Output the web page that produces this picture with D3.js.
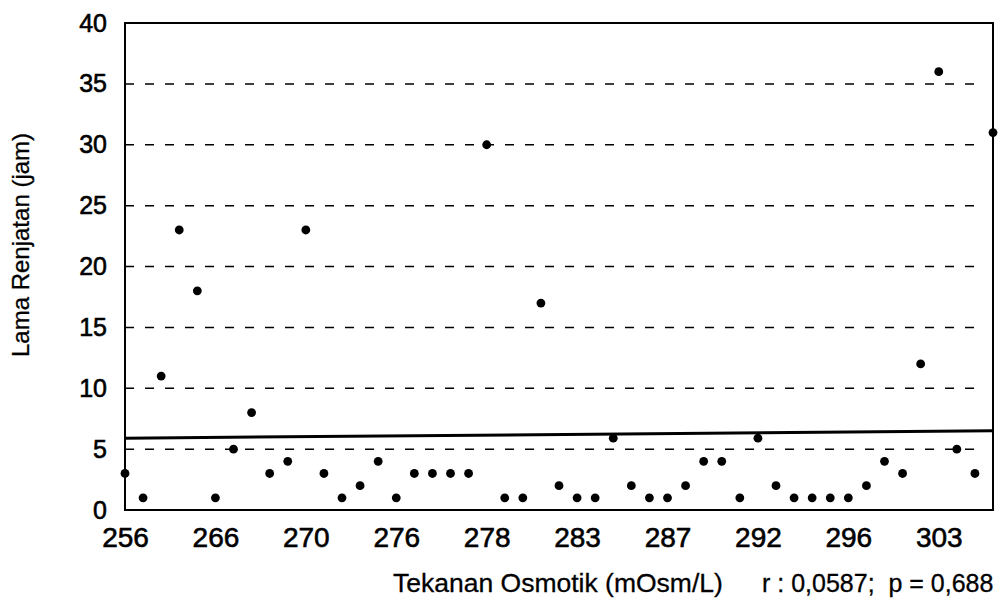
<!DOCTYPE html>
<html>
<head>
<meta charset="utf-8">
<script src="https://cdn.jsdelivr.net/npm/d3@7"></script>
<style>
  body { margin: 0; background: #fff; }
  text { font-family: Arial, "Liberation Sans", sans-serif; fill: #000; }
</style>
</head>
<body>
<svg id="chart" width="1004" height="605"></svg>
<script>
// lama renjatan (jam) per pasien, urut menurut tekanan osmotik
var durations = [3, 1, 11, 23, 18, 1, 5, 8, 3, 4,
                 23, 3, 1, 2, 4, 1, 3, 3, 3, 3,
                 30, 1, 1, 17, 2, 1, 1, 5.9, 2, 1,
                 1, 2, 4, 4, 1, 5.9, 2, 1, 1, 1,
                 1, 2, 4, 3, 12, 36, 5, 3, 31];
// label every 5th patient
var tickIndex = [0, 5, 10, 15, 20, 25, 30, 35, 40, 45];
var tickLabels = ["256", "266", "270", "276", "278", "283", "287", "292", "296", "303"];
var yTicks = [0, 5, 10, 15, 20, 25, 30, 35, 40];
var gridValues = [5, 10, 15, 20, 25, 30, 35];
var trendEnds = [5.9, 6.5];

var plotLeft = 125, plotRight = 993, plotTop = 23, plotBottom = 510;

var svg = d3.select("#chart");

var x = d3.scalePoint()
    .domain(d3.range(durations.length))
    .range([plotLeft, plotRight]);

var y = d3.scaleLinear()
    .domain([0, 40])
    .range([plotBottom, plotTop]);

// dashed grid
svg.append("g")
  .selectAll("line")
  .data(gridValues)
  .enter()
  .append("line")
  .attr("x1", plotLeft)
  .attr("x2", plotRight - 14)
  .attr("y1", function(d){ return y(d); })
  .attr("y2", function(d){ return y(d); })
  .style("stroke", "#000")
  .style("stroke-width", 1.5)
  .style("stroke-dasharray", "9,11");

// frame
svg.append("rect")
  .attr("x", plotLeft)
  .attr("y", plotTop)
  .attr("width", plotRight - plotLeft)
  .attr("height", plotBottom - plotTop)
  .style("fill", "none")
  .style("stroke", "#000")
  .style("stroke-width", 2);

// regression line
svg.append("line")
  .attr("x1", plotLeft)
  .attr("x2", plotRight)
  .attr("y1", y(trendEnds[0]))
  .attr("y2", y(trendEnds[1]))
  .style("stroke", "#000")
  .style("stroke-width", 3);

// points
svg.append("g")
  .selectAll("circle")
  .data(durations)
  .enter()
  .append("circle")
  .attr("cx", function(d, i){ return x(i); })
  .attr("cy", function(d){ return y(d); })
  .attr("r", 4.4)
  .style("fill", "#000");

// y axis labels
var yAxis = d3.axisLeft(y).tickValues(yTicks).tickSize(0).tickPadding(18);
var gy = svg.append("g")
  .attr("transform", "translate(" + plotLeft + ",0)")
  .call(yAxis);
gy.select(".domain").remove();
gy.selectAll("text")
  .style("font-size", "25px")
  .style("font-family", "Arial, 'Liberation Sans', sans-serif")
  .style("stroke", "#000")
  .style("stroke-width", 0.6)
  .attr("fill", "#000");

// x axis labels
var xAxis = d3.axisBottom(x)
  .tickValues(tickIndex)
  .tickFormat(function(d){ return tickLabels[tickIndex.indexOf(d)]; })
  .tickSize(0)
  .tickPadding(17);
var gx = svg.append("g")
  .attr("transform", "translate(0," + plotBottom + ")")
  .call(xAxis);
gx.select(".domain").remove();
gx.selectAll("text")
  .style("font-size", "28px")
  .style("font-family", "Arial, 'Liberation Sans', sans-serif")
  .style("stroke", "#000")
  .style("stroke-width", 0.6)
  .attr("fill", "#000");

// titles
svg.append("text")
  .attr("transform", "translate(29,245) rotate(-90)")
  .attr("text-anchor", "middle")
  .style("font-size", "24px")
  .style("stroke", "#000")
  .style("stroke-width", 0.3)
  .text("Lama Renjatan (jam)");

svg.append("text")
  .attr("x", 393)
  .attr("y", 592)
  .style("font-size", "26.5px")
  .style("stroke", "#000")
  .style("stroke-width", 0.3)
  .text("Tekanan Osmotik (mOsm/L)");

svg.append("text")
  .attr("x", 762)
  .attr("y", 592)
  .style("font-size", "25px")
  .style("stroke", "#000")
  .style("stroke-width", 0.3)
  .attr("xml:space", "preserve")
  .style("white-space", "pre")
  .text("r : 0,0587;  p = 0,688");
</script>
</body>
</html>
